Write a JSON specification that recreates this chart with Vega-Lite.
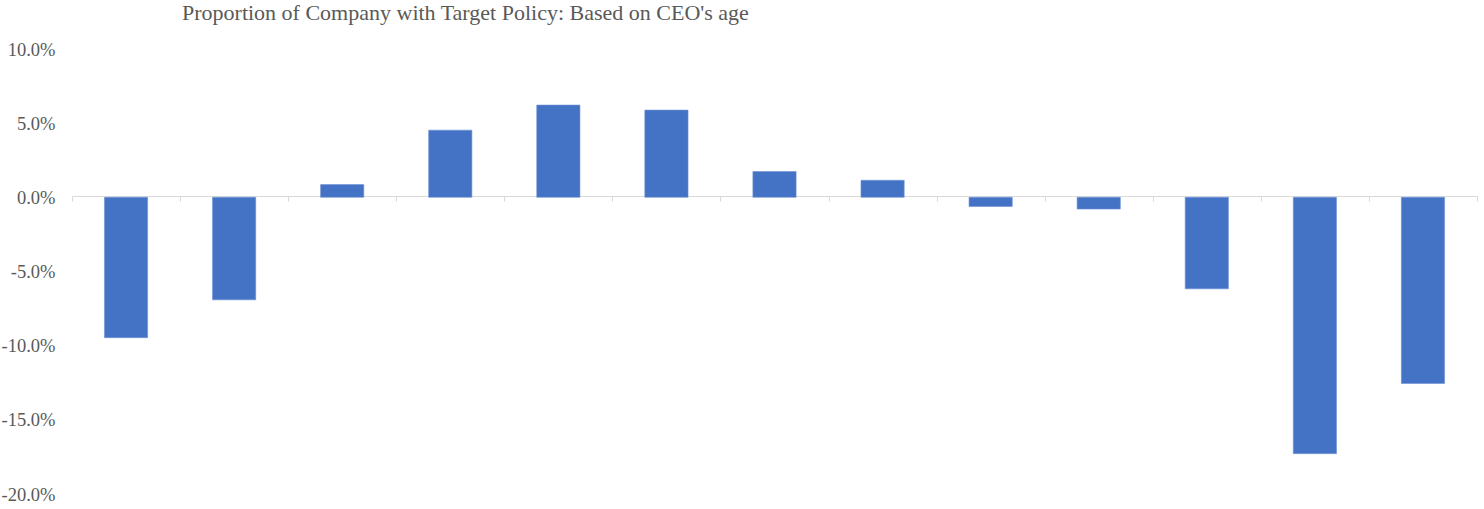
{
  "$schema": "https://vega.github.io/schema/vega-lite/v6.json",
  "autosize": {"type": "none"},
  "width": 1405,
  "height": 445,
  "padding": {"left": 72, "top": 49, "right": 7, "bottom": 15},
  "background": "white",
  "title": {
    "text": "Proportion of Company with Target Policy: Based on CEO's age",
    "anchor": "start",
    "frame": "group",
    "dx": 110,
    "offset": 15,
    "font": "Liberation Serif",
    "fontSize": 22,
    "fontWeight": "normal",
    "color": "#595959"
  },
  "data": {
    "values": [
      {"group": "G01", "value": -0.0946},
      {"group": "G02", "value": -0.0691},
      {"group": "G03", "value": 0.0086},
      {"group": "G04", "value": 0.0453},
      {"group": "G05", "value": 0.0622},
      {"group": "G06", "value": 0.0588},
      {"group": "G07", "value": 0.0174},
      {"group": "G08", "value": 0.0115},
      {"group": "G09", "value": -0.0062},
      {"group": "G10", "value": -0.0079},
      {"group": "G11", "value": -0.0617},
      {"group": "G12", "value": -0.1728},
      {"group": "G13", "value": -0.1255}
    ]
  },
  "mark": {"type": "bar", "color": "#4472C4", "stroke": "#6f93d6", "strokeWidth": 0.6, "width": {"band": 0.4}},
  "encoding": {
    "x": {
      "field": "group",
      "type": "nominal",
      "sort": null,
      "scale": {"paddingInner": 0, "paddingOuter": 0},
      "axis": {
        "title": null,
        "labels": false,
        "offset": -298,
        "domainColor": "#d9d9d9",
        "domainWidth": 1,
        "tickColor": "#d9d9d9",
        "tickSize": 5,
        "tickWidth": 1,
        "tickBand": "extent",
        "grid": false
      }
    },
    "y": {
      "field": "value",
      "type": "quantitative",
      "scale": {"domain": [-0.2, 0.1], "nice": false, "zero": true},
      "axis": {
        "title": null,
        "values": [-0.2, -0.15, -0.1, -0.05, 0, 0.05, 0.1],
        "format": ".1%",
        "labelExpr": "replace(datum.label, '\u2212', '-')",
        "domain": false,
        "ticks": false,
        "grid": false,
        "labelPadding": 17
      }
    }
  },
  "config": {
    "view": {"stroke": null},
    "axis": {"labelFont": "Liberation Serif", "labelFontSize": 18.5, "labelColor": "#595959"}
  }
}
